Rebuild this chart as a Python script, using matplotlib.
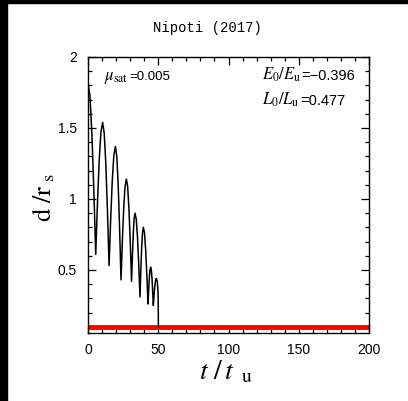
import matplotlib
matplotlib.use("Agg")
import matplotlib.pyplot as plt
from matplotlib.ticker import MultipleLocator, FixedLocator
from matplotlib.patches import Rectangle

# ---- data ----
t_vals = [0.0, 1.375, 2.75, 4.125, 5.5,
          6.725, 7.95, 9.175, 10.4,
          11.55, 12.7, 13.85, 15.0,
          16.125, 17.25, 18.375, 19.5,
          20.5, 21.5, 22.5, 23.5,
          24.45, 25.4, 26.35, 27.3,
          28.225, 29.15, 30.075, 31.0,
          31.625, 32.25, 32.875, 33.5,
          34.375, 35.25, 36.125, 37.0,
          37.6, 38.2, 38.8, 39.4,
          40.225, 41.05, 41.875, 42.7,
          43.175, 43.65, 44.125, 44.6,
          45.075, 45.55, 46.025, 46.5,
          47.025, 47.55, 48.075, 48.6,
          49.3, 49.8, 50.0, 50.1]
d_vals = [1.82, 1.728, 1.465, 1.073, 0.61,
          0.966, 1.268, 1.469, 1.54,
          1.463, 1.244, 0.917, 0.53,
          0.852, 1.124, 1.306, 1.37,
          1.299, 1.095, 0.790, 0.43,
          0.702, 0.932, 1.086, 1.14,
          1.085, 0.929, 0.696, 0.42,
          0.604, 0.759, 0.864, 0.90,
          0.855, 0.727, 0.536, 0.31,
          0.498, 0.656, 0.763, 0.80,
          0.759, 0.642, 0.467, 0.26,
          0.360, 0.444, 0.500, 0.52,
          0.499, 0.441, 0.353, 0.25,
          0.323, 0.384, 0.426, 0.44,
          0.42, 0.35, 0.25, 0.10]
red_t = [0, 200]
red_d = [0.1, 0.1]

title_text = "Nipoti (2017)"
mu_sym, mu_val = r"$\mu_{\rm sat}$", "=0.005"
E_sym, E_val = r"$E_0/E_{\rm u}$", "=\u22120.396"
L_sym, L_val = r"$L_0/L_{\rm u}$", "=0.477"
xticks = [0, 50, 100, 150, 200]
yticks = [0.5, 1, 1.5, 2]
ytick_labels = ["0.5", "1", "1.5", "2"]

plt.rcParams["font.family"] = ["Liberation Sans", "DejaVu Sans"]
plt.rcParams["mathtext.fontset"] = "stix"

W, H = 408, 401
fig = plt.figure(figsize=(W / 100, H / 100), dpi=100)
fig.patches.append(Rectangle((0, 0), 7 / W, 1, transform=fig.transFigure,
                             color="black", zorder=10))
fig.patches.append(Rectangle((0, 1 - 3 / H), 1, 3 / H, transform=fig.transFigure,
                             color="black", zorder=10))

ax = fig.add_axes([88 / W, 1 - 333 / H, 281 / W, 276 / H])
ax.plot(red_t, red_d, color="#ff0000", lw=3.5, solid_capstyle="butt", zorder=2)
ax.plot(t_vals, d_vals, color="black", lw=1.1, zorder=3)

ax.set_xlim(0, 200)
ax.set_ylim(0.056, 2)
ax.xaxis.set_major_locator(FixedLocator(xticks))
ax.xaxis.set_minor_locator(MultipleLocator(10))
ax.yaxis.set_major_locator(FixedLocator(yticks))
ax.set_yticklabels(ytick_labels)
ax.yaxis.set_minor_locator(MultipleLocator(0.1))
ax.tick_params(which="both", direction="in", top=True, right=True, width=0.9,
               labelsize=10)
ax.tick_params(which="major", length=6)
ax.tick_params(which="minor", length=3)
ax.tick_params(axis="x", pad=7)
ax.tick_params(axis="y", pad=8)
for s in ax.spines.values():
    s.set_linewidth(1.0)

fig.text(226 / W, 1 - 372 / H, r"$t\ /\,t_{\ \ \mathrm{u}}$", fontsize=20,
         ha="center", va="center")
fig.text(44 / W, 1 - 197 / H, r"$\mathrm{d}\ /\mathrm{r}_{\ \mathrm{s}}$",
         fontsize=19, ha="center", va="center", rotation=90)

fig.text(207 / W, 1 - 28 / H, title_text, family="Liberation Mono",
         fontsize=10, ha="center", va="center")


def two_part(x_px, base_px, sym, val, vsize):
    t1 = fig.text(x_px / W, 1 - base_px / H, sym, fontsize=12, va="baseline",
                  ha="left")
    fig.canvas.draw()
    bb = t1.get_window_extent(fig.canvas.get_renderer())
    fig.text(bb.x1 / fig.bbox.width + 0.5 / W, 1 - base_px / H, val,
             fontsize=vsize, va="baseline", ha="left")


two_part(104, 80, mu_sym, mu_val, 9.5)
two_part(262, 80, E_sym, E_val, 10.5)
two_part(262, 105, L_sym, L_val, 10.5)

fig.savefig("out.png", dpi=100)
